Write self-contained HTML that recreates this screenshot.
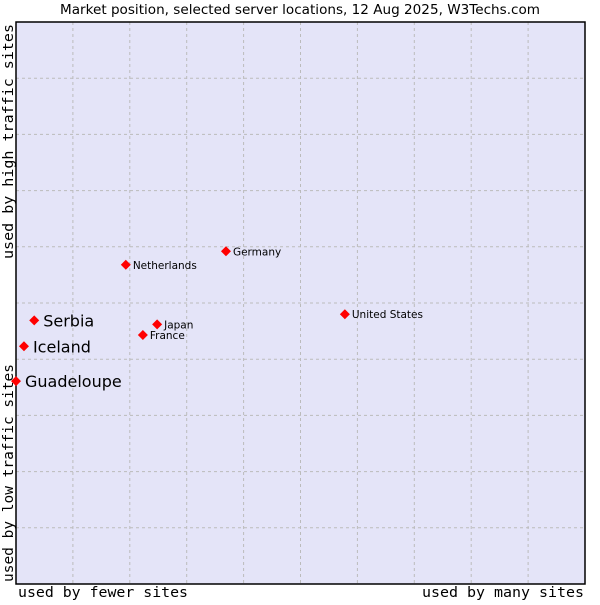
<!DOCTYPE html>
<html><head><meta charset="utf-8"><style>
body{margin:0;background:#fff;width:600px;height:600px;overflow:hidden}
svg text{font-family:"DejaVu Sans","Liberation Sans",sans-serif}
.mono{font-family:"DejaVu Sans Mono","Liberation Mono",monospace}
</style></head><body>
<svg id="chart" width="600" height="600">
<text x="60" y="14" textLength="480" lengthAdjust="spacingAndGlyphs" font-size="13" fill="#000">Market position, selected server locations, 12 Aug 2025, W3Techs.com</text>
<rect x="16" y="22" width="569" height="562" fill="#e4e4f8"/>
<g id="grid"></g>
<path d="M16 22H585V584H16Z" fill="none" stroke="#000" stroke-width="1.5"/>
<text class="mono" x="18" y="597" font-size="14.5" textLength="170" lengthAdjust="spacingAndGlyphs">used by fewer sites</text>
<text class="mono" x="422" y="597" font-size="14.5" textLength="162" lengthAdjust="spacingAndGlyphs">used by many sites</text>
<text class="mono" transform="translate(13,582) rotate(-90)" font-size="14.5" textLength="218" lengthAdjust="spacingAndGlyphs">used by low traffic sites</text>
<text class="mono" transform="translate(13,259) rotate(-90)" font-size="14.5" textLength="235" lengthAdjust="spacingAndGlyphs">used by high traffic sites</text>
<g id="points"></g>
</svg>
<script>
const names=["Serbia","Iceland","Guadeloupe","Netherlands","Germany","Japan","France","United States"];
const xVals=[3.2,1.4,0,19.3,36.9,24.8,22.3,57.8];
const yVals=[46.9,42.3,36.1,56.8,59.2,46.2,44.3,48.0];
const bigLabel=[true,true,true,false,false,false,false,false];
const NS="http://www.w3.org/2000/svg";
const X=v=>16+v*5.69, Y=v=>584-v*5.62;
const grid=document.getElementById('grid');
for(let i=1;i<10;i++){
 const l=document.createElementNS(NS,'line');
 l.setAttribute('x1',X(i*10));l.setAttribute('x2',X(i*10));l.setAttribute('y1',22);l.setAttribute('y2',584);
 l.setAttribute('stroke','#bbb');l.setAttribute('stroke-dasharray','3,3');
 
 
 grid.appendChild(l);
 const h=document.createElementNS(NS,'line');
 h.setAttribute('y1',Y(i*10));h.setAttribute('y2',Y(i*10));h.setAttribute('x1',16);h.setAttribute('x2',585);
 h.setAttribute('stroke','#bbb');h.setAttribute('stroke-dasharray','3,3');
 
 
 grid.appendChild(h);
}
const pts=document.getElementById('points');
names.forEach((n,i)=>{
 const x=X(xVals[i]),y=Y(yVals[i]);
 const d=document.createElementNS(NS,'path');
 d.setAttribute('d',`M${x} ${y-5}L${x+5} ${y}L${x} ${y+5}L${x-5} ${y}Z`);
 d.setAttribute('fill','#f00');
 
 
 pts.appendChild(d);
 const t=document.createElementNS(NS,'text');
 const big=bigLabel[i];
 t.setAttribute('x',x+(big?9:7));t.setAttribute('y',y+(big?6:4));
 t.setAttribute('font-size',big?16:10.5);
 t.textContent=n;
 
 
 pts.appendChild(t);
});
</script>
</body></html>
